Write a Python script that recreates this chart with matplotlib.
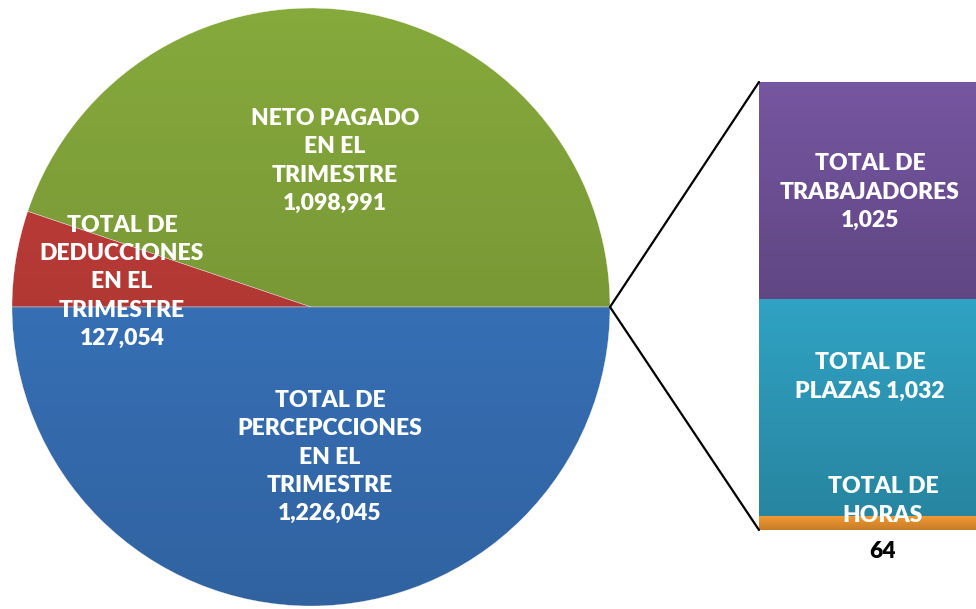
import numpy as np
import matplotlib.pyplot as plt
from matplotlib.patches import ConnectionPatch, Circle

plt.rcParams['font.family'] = ['Lato', 'DejaVu Sans']

# ── datos ─────────────────────────────────────────────────────────────
pie_labels = ['NETO PAGADO\nEN EL\nTRIMESTRE', 'TOTAL DE\nDEDUCCIONES\nEN EL\nTRIMESTRE',
              'TOTAL DE\nPERCEPCCIONES\nEN EL\nTRIMESTRE']
pie_values = [1098991, 127054, 1226045]
pie_colors = ['#86a93c', '#c53e3a', '#3c7bc8']

bar_labels = ['TOTAL DE\nHORAS', 'TOTAL DE\nPLAZAS', 'TOTAL DE\nTRABAJADORES']
bar_values = [64, 1032, 1025]
bar_colors = ['#f09832', '#30a2c3', '#7556a0']

W, H = 976, 609
fig = plt.figure(figsize=(W / 100, H / 100), dpi=100)

# ── pastel ────────────────────────────────────────────────────────────
ax = fig.add_axes([0, 0, 1, 1])
cx, cy, r = 311, 302, 299
wedges, _ = ax.pie(pie_values, colors=pie_colors, startangle=0, counterclock=True,
                   center=(cx, cy), radius=r,
                   wedgeprops=dict(edgecolor='#ffffff', linewidth=0.3))

# sombreado vertical suave (claro arriba, oscuro abajo)
grad = np.linspace(0, 1, 256).reshape(-1, 1)
shade = np.zeros((256, 1, 4))
shade[..., 3] = 0.2 * grad
im = ax.imshow(shade, extent=(cx - r, cx + r, cy - r, cy + r), origin='upper',
               aspect='auto', zorder=3)
im.set_clip_path(Circle((cx, cy), r, transform=ax.transData))
ax.set_xlim(0, W)
ax.set_ylim(0, H)
ax.set_aspect('equal')
ax.axis('off')

txt = dict(color='white', fontsize=16.5, fontweight='heavy', ha='center', va='center',
           linespacing=1.42, zorder=5)
ax.text(335, H - 161, f'{pie_labels[0]}\n{pie_values[0]:,}', **txt)
ax.text(122, H - 282, f'{pie_labels[1]}\n{pie_values[1]:,}', **txt)
ax.text(330, H - 457, f'{pie_labels[2]}\n{pie_values[2]:,}', **txt)

# ── barra apilada ─────────────────────────────────────────────────────
bx0, bx1, by0, by1 = 759, 976, 79, 527
bax = fig.add_axes([bx0 / W, by0 / H, (bx1 - bx0) / W, (by1 - by0) / H])
bottom = 0
for v, c in zip(bar_values, bar_colors):
    bax.bar(0, v, width=1, bottom=bottom, color=c, edgecolor='none')
    # sombreado dentro de cada segmento
    bax.imshow(shade, extent=(-0.5, 0.5, bottom, bottom + v), origin='upper',
               aspect='auto', zorder=3, alpha=0.9)
    bottom += v
bax.set_xlim(-0.5, 0.5)
bax.set_ylim(0, sum(bar_values))
bax.axis('off')

# textos de la barra (coordenadas de figura)
fig.text(870 / W, 1 - 192 / H, f'{bar_labels[2]}\n{bar_values[2]:,}', **txt)
fig.text(870 / W, 1 - 377 / H, f'{bar_labels[1]} {bar_values[1]:,}', **txt)
fig.text(883 / W, 1 - 501 / H, bar_labels[0], **txt)
fig.text(883 / W, 1 - 551 / H, f'{bar_values[0]}', color='black', fontsize=16.5,
         fontweight='heavy', ha='center', va='center')

# líneas de conexión
for yb in (1, 0):
    con = ConnectionPatch(xyA=(cx + r, cy), coordsA=ax.transData,
                          xyB=(-0.5, yb * sum(bar_values)), coordsB=bax.transData,
                          color='black', lw=1.6)
    fig.add_artist(con)

plt.savefig('out.png', dpi=100)
